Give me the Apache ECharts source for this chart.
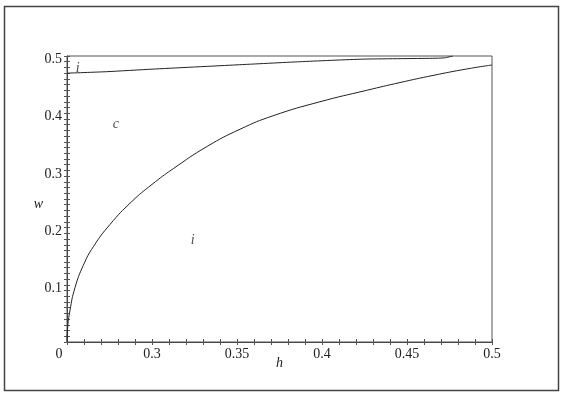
<!DOCTYPE html>
<html>
<head>
<meta charset="utf-8">
<script src="https://cdn.jsdelivr.net/npm/echarts@6/dist/echarts.min.js"></script>
<style>
html,body{margin:0;padding:0;background:#fff;}
#c{width:566px;height:396px;}
</style>
</head>
<body>
<div id="c"></div>
<script>
// Lower boundary curve (h, w)
var lowerCurve = [
  [0.25, 0.0], [0.2503, 0.022], [0.2518, 0.056], [0.2547, 0.095], [0.2596, 0.134],
  [0.2655, 0.1666], [0.2753, 0.2055], [0.2881, 0.2455], [0.30, 0.2755], [0.3125, 0.303],
  [0.3322, 0.3415], [0.3518, 0.372], [0.3712, 0.3955], [0.3988, 0.420],
  [0.4263, 0.440], [0.4459, 0.4536], [0.4653, 0.466], [0.4851, 0.4773],
  [0.5, 0.4843]
];
// Upper boundary curve (h, w)
var upperCurve = [
  [0.25, 0.470], [0.2734, 0.4726], [0.30, 0.477], [0.35, 0.4845], [0.387, 0.490],
  [0.424, 0.4945], [0.465, 0.496], [0.472, 0.4968], [0.477, 0.5]
];
// Region labels: [h, w, text]
var regionLabels = [
  [0.2563, 0.479, 'i'],
  [0.2787, 0.381, 'c'],
  [0.324, 0.177, 'i']
];
var xMin = 0.25, xMax = 0.5, xStep = 0.01;
var yMin = 0, yMax = 0.5, yStep = 0.01;
var xOriginLabel = '0';

var font = 'Liberation Serif';
function isMult(v, m) { var r = v / m; return Math.abs(r - Math.round(r)) < 1e-6; }
function trim(v) { return String(parseFloat(v.toFixed(4))); }

var chart = echarts.init(document.getElementById('c'), null, {renderer: 'canvas'});
var common = {
  type: 'value', splitLine: {show: false}
};
chart.setOption({
  backgroundColor: '#fff',
  animation: false,
  graphic: [{
    type: 'rect', shape: {x: 4.5, y: 6.5, width: 554, height: 384},
    style: {fill: 'none', stroke: '#444', lineWidth: 1.5}
  }],
  grid: {left: 67, right: 74, top: 56, bottom: 54, show: true, borderColor: '#555', borderWidth: 1},
  xAxis: [
    Object.assign({}, common, {
      min: xMin, max: xMax, interval: xStep, position: 'bottom',
      name: 'h', nameLocation: 'middle', nameGap: 14, nameMoveOverlap: false,
      nameTextStyle: {fontFamily: font, fontStyle: 'italic', fontSize: 14, color: '#222'},
      axisLine: {show: true, onZero: false, lineStyle: {color: '#444', width: 1}},
      axisTick: {show: true, inside: false, length: 3, lineStyle: {color: '#555'}},
      axisLabel: {
        show: true, margin: 5, fontFamily: font, fontSize: 14, color: '#222', showMinLabel: true, showMaxLabel: true,
        formatter: function (v) {
          if (Math.abs(v - xMin) < 1e-9) return '{o|' + xOriginLabel + '}';
          return isMult(v, 0.05) ? trim(v) : '';
        },
        rich: {o: {fontFamily: font, fontSize: 14, color: '#222', padding: [0, 16, 0, 0]}}
      }
    }),
    Object.assign({}, common, {
      min: xMin, max: xMax, interval: xStep, position: 'bottom',
      axisLine: {show: false, onZero: false},
      axisTick: {show: true, inside: true, length: 3, lineStyle: {color: '#555'}},
      axisLabel: {show: false}
    })
  ],
  yAxis: [
    Object.assign({}, common, {
      min: yMin, max: yMax, interval: yStep, position: 'left',
      name: 'w', nameLocation: 'middle', nameGap: 24, nameRotate: 0, nameMoveOverlap: false,
      nameTextStyle: {fontFamily: font, fontStyle: 'italic', fontSize: 14, color: '#222', verticalAlign: 'top', lineHeight: 10},
      axisLine: {show: true, onZero: false, lineStyle: {color: '#444', width: 1}},
      axisTick: {show: true, inside: false, length: 3, lineStyle: {color: '#555'}},
      axisLabel: {
        show: true, margin: 5, fontFamily: font, fontSize: 14, color: '#222',
        formatter: function (v) { return (v > 1e-9 && isMult(v, 0.1)) ? '{a|' + trim(v) + '}' : ''; },
        rich: {a: {fontFamily: font, fontSize: 14, color: '#222', padding: [7, 0, 0, 0]}}
      }
    }),
    Object.assign({}, common, {
      min: yMin, max: yMax, interval: yStep, position: 'left',
      axisLine: {show: false, onZero: false},
      axisTick: {show: true, inside: true, length: 3, lineStyle: {color: '#555'}},
      axisLabel: {show: false}
    })
  ],
  series: [
    {type: 'line', data: lowerCurve, showSymbol: false, smooth: 0.5,
     lineStyle: {color: '#222', width: 1}, xAxisIndex: 0, yAxisIndex: 0},
    {type: 'line', data: upperCurve, showSymbol: false, smooth: 0.2,
     lineStyle: {color: '#222', width: 1}, xAxisIndex: 0, yAxisIndex: 0},
    {type: 'scatter', data: regionLabels, symbolSize: 0, xAxisIndex: 0, yAxisIndex: 0,
     label: {show: true, position: 'inside', fontFamily: font, fontStyle: 'italic', fontSize: 14, color: '#222',
       formatter: function (p) { return p.data[2]; }}}
  ]
});
</script>
</body>
</html>
